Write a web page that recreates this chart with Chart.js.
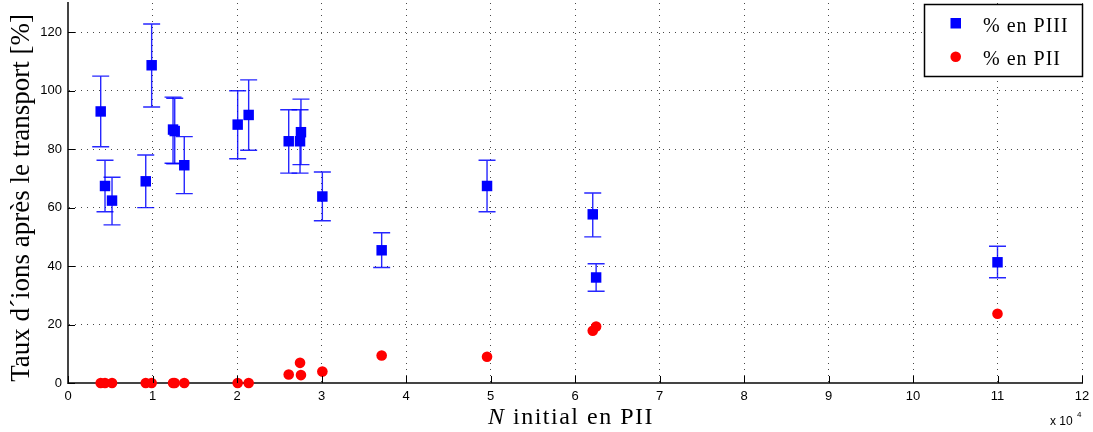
<!DOCTYPE html>
<html>
<head>
<meta charset="utf-8">
<script src="https://cdn.jsdelivr.net/npm/chart.js@4.4.0/dist/chart.umd.min.js"></script>
<style>
  html, body { margin: 0; padding: 0; background: #fff; }
  #wrap { width: 1093px; height: 432px; position: relative; }
</style>
</head>
<body>
<div id="wrap"><canvas id="chart_transport"></canvas></div>
<script>
// N initial en PII (x 10^4)
var n_initial = [0.387, 0.438, 0.521, 0.92, 0.99, 1.243, 1.263, 1.376, 2.008, 2.138, 2.612, 2.746, 2.757, 3.01, 3.712, 4.959, 6.21, 6.25, 11.0];
// % en PIII with error bounds
var pct_piii = [92.9, 67.4, 62.4, 69.0, 108.7, 86.7, 86.2, 74.5, 88.4, 91.7, 82.7, 82.7, 85.8, 63.8, 45.4, 67.4, 57.7, 36.1, 41.3];
var piii_high = [105.0, 76.2, 70.4, 78.0, 122.8, 97.8, 97.4, 84.3, 100.0, 103.7, 93.5, 93.5, 97.1, 72.2, 51.4, 76.2, 65.0, 40.8, 46.8];
var piii_low = [80.8, 58.6, 54.1, 60.0, 94.4, 75.2, 75.0, 64.8, 76.7, 79.6, 71.8, 71.8, 74.7, 55.5, 39.5, 58.6, 50.0, 31.4, 36.0];
// % en PII
var pct_pii = [0, 0, 0, 0, 0, 0, 0, 0, 0, 0, 2.9, 6.9, 2.7, 3.9, 9.4, 9.0, 17.9, 19.3, 23.7];

var series_labels = ['% en PIII', '% en PII'];
var x_title = ['N', ' initial en PII'];
var y_title = 'Taux d\u00b4ions apr\u00e8s le transport [%]';
var x_ticks = [0, 1, 2, 3, 4, 5, 6, 7, 8, 9, 10, 11, 12];
var y_ticks = [0, 20, 40, 60, 80, 100, 120];

var BLUE = '#0000ff';
var RED = '#ff0000';
var SERIF = '"Liberation Serif", "DejaVu Serif", serif';
var SANS = '"Liberation Sans", Arial, sans-serif';

function to_points(xs, ys){
  return xs.map(function(x, i){ return {x: x, y: ys[i]}; });
}

function grid_color(c){
  return c.tick && c.tick.value === 0 ? 'rgba(0,0,0,0)' : 'rgba(40,40,40,0.85)';
}

function no_padding(scale){
  scale.paddingLeft = 0;
  scale.paddingRight = 0;
  scale.paddingTop = 0;
  scale.paddingBottom = 0;
}

var decorations = {
  id: 'decorations',
  beforeDatasetsDraw: function(chart){
    var ctx = chart.ctx;
    var sx = chart.scales.x, sy = chart.scales.y;
    ctx.save();
    ctx.strokeStyle = 'rgba(0,0,255,0.85)';
    ctx.lineWidth = 1.4;
    for (var i = 0; i < n_initial.length; i++) {
      var px = sx.getPixelForValue(n_initial[i]);
      var hi = sy.getPixelForValue(piii_high[i]);
      var lo = sy.getPixelForValue(piii_low[i]);
      ctx.beginPath();
      ctx.moveTo(px, hi); ctx.lineTo(px, lo);
      ctx.moveTo(px - 8.5, hi); ctx.lineTo(px + 8.5, hi);
      ctx.moveTo(px - 8.5, lo); ctx.lineTo(px + 8.5, lo);
      ctx.stroke();
    }
    ctx.restore();
  },
  afterDraw: function(chart){
    var ctx = chart.ctx;
    var sx = chart.scales.x, sy = chart.scales.y;
    var area = chart.chartArea;
    ctx.save();

    // inward ticks
    ctx.strokeStyle = '#000';
    ctx.lineWidth = 1;
    ctx.beginPath();
    x_ticks.forEach(function(v){
      var px = Math.round(sx.getPixelForValue(v)) + 0.5;
      ctx.moveTo(px, area.bottom); ctx.lineTo(px, area.bottom - 7);
    });
    y_ticks.forEach(function(v){
      var py = Math.round(sy.getPixelForValue(v)) + 0.5;
      ctx.moveTo(area.left, py); ctx.lineTo(area.left + 7, py);
    });
    ctx.stroke();

    // axis titles
    ctx.fillStyle = '#000';
    ctx.textBaseline = 'alphabetic';
    ctx.letterSpacing = '1.5px';
    ctx.font = 'italic 24px ' + SERIF;
    var w1 = ctx.measureText(x_title[0]).width;
    ctx.font = '24px ' + SERIF;
    var w2 = ctx.measureText(x_title[1]).width;
    var xs = 571 - (w1 + w2) / 2;
    ctx.textAlign = 'left';
    ctx.font = 'italic 24px ' + SERIF;
    ctx.fillText(x_title[0], xs, 424);
    ctx.font = '24px ' + SERIF;
    ctx.fillText(x_title[1], xs + w1, 424);
    ctx.letterSpacing = '0px';

    ctx.save();
    ctx.translate(22, 198);
    ctx.rotate(-Math.PI / 2);
    ctx.textAlign = 'center';
    ctx.textBaseline = 'middle';
    ctx.font = '27px ' + SERIF;
    ctx.fillText(y_title, 0, 0);
    ctx.restore();

    // x 10^4 multiplier
    ctx.textAlign = 'left';
    ctx.textBaseline = 'middle';
    ctx.font = '12px ' + SANS;
    ctx.fillText('x 10', 1050, 422);
    ctx.font = '8px ' + SANS;
    ctx.fillText('4', 1077, 415);

    // legend
    ctx.fillStyle = '#fff';
    ctx.fillRect(924.5, 4.5, 158, 72);
    ctx.strokeStyle = '#000';
    ctx.lineWidth = 1.5;
    ctx.strokeRect(924.5, 4.5, 158, 72);
    ctx.fillStyle = BLUE;
    ctx.fillRect(950.5, 18, 10.5, 10.5);
    ctx.fillStyle = RED;
    ctx.beginPath();
    ctx.arc(955.7, 56.7, 5.3, 0, Math.PI * 2);
    ctx.fill();
    ctx.fillStyle = '#000';
    ctx.textBaseline = 'alphabetic';
    ctx.letterSpacing = '1px';
    ctx.font = '20px ' + SERIF;
    ctx.fillText(series_labels[0], 983, 31.5);
    ctx.fillText(series_labels[1], 983, 65);
    ctx.letterSpacing = '0px';

    ctx.restore();
  }
};

var chart_ctx = document.getElementById('chart_transport').getContext('2d');

var mychart = new Chart(chart_ctx, {
  type: 'scatter',
  data: {
    datasets: [{
      label: series_labels[0],
      data: to_points(n_initial, pct_piii),
      pointStyle: 'rect',
      pointRadius: 7.4,
      pointHoverRadius: 7.4,
      backgroundColor: BLUE,
      borderColor: BLUE,
      borderWidth: 0
    }, {
      label: series_labels[1],
      data: to_points(n_initial, pct_pii),
      pointStyle: 'circle',
      pointRadius: 5.3,
      pointHoverRadius: 5.3,
      backgroundColor: RED,
      borderColor: RED,
      borderWidth: 0,
      clip: false
    }]
  },
  options: {
    responsive: true,
    maintainAspectRatio: false,
    animation: false,
    events: [],
    layout: { autoPadding: false, padding: { top: 3, right: 11, left: 0, bottom: 0 } },
    plugins: {
      legend: { display: false },
      title: { display: false },
      tooltip: { enabled: false }
    },
    scales: {
      x: {
        type: 'linear',
        min: 0,
        max: 12,
        afterFit: function(scale){
          scale.height = 49;
          no_padding(scale);
        },
        ticks: {
          stepSize: 1,
          padding: 6,
          color: '#000',
          font: { family: SANS, size: 13 }
        },
        grid: { color: grid_color, lineWidth: 1, drawTicks: false },
        border: { display: true, color: '#444', width: 2, dash: [1, 5] }
      },
      y: {
        type: 'linear',
        min: 0,
        max: 130,
        afterFit: function(scale){
          scale.width = 68;
          no_padding(scale);
        },
        ticks: {
          stepSize: 20,
          includeBounds: false,
          padding: 6,
          color: '#000',
          font: { family: SANS, size: 13 }
        },
        grid: { color: grid_color, lineWidth: 1, drawTicks: false },
        border: { display: true, color: '#444', width: 2, dash: [1, 5] }
      }
    }
  },
  plugins: [decorations]
});
</script>
</body>
</html>
